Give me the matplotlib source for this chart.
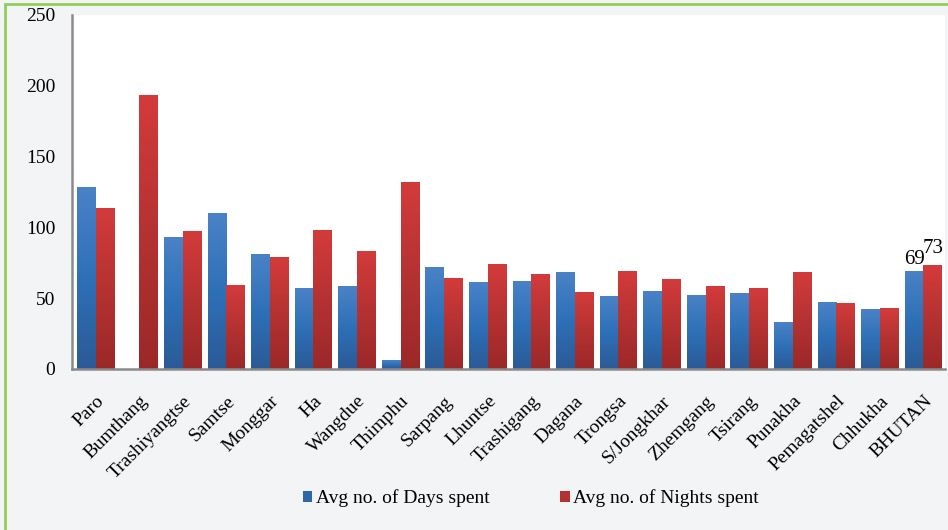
import numpy as np
import matplotlib
matplotlib.use('Agg')
import matplotlib.pyplot as plt
from matplotlib.colors import LinearSegmentedColormap
from matplotlib.patches import Rectangle, Patch

districts = ['Paro', 'Bumthang', 'Trashiyangtse', 'Samtse', 'Monggar', 'Ha', 'Wangdue',
             'Thimphu', 'Sarpang', 'Lhuntse', 'Trashigang', 'Dagana', 'Trongsa',
             'S/Jongkhar', 'Zhemgang', 'Tsirang', 'Punakha', 'Pemagatshel', 'Chhukha', 'BHUTAN']
days = [128, 0, 93, 110, 81, 57, 58, 6, 72, 61, 62, 68, 51, 55, 52, 53, 33, 47, 42, 69]
nights = [113, 193, 97, 59, 79, 98, 83, 132, 64, 74, 67, 54, 69, 63, 58, 57, 68, 46, 43, 73]

plt.rcParams['font.family'] = ['Liberation Serif', 'DejaVu Serif']

fig = plt.figure(figsize=(9.48, 5.3), dpi=100, facecolor='#f3f4f6')
ax = fig.add_axes([0.076, 0.304, 0.921, 0.668])
ax.set_facecolor('white')

x = np.arange(len(districts))
w = 0.43
blue_cmap = LinearSegmentedColormap.from_list('b', ['#2b5a96', '#2e70b8', '#4a82c6'])
red_cmap = LinearSegmentedColormap.from_list('r', ['#9b2828', '#b53232', '#d33b3b'])

bars_d = ax.bar(x - w/2, days, w, color='none', zorder=2)
bars_n = ax.bar(x + w/2, nights, w, color='none', zorder=2)

# vertical gradient fill for each bar
grad = np.linspace(0, 1, 256).reshape(-1, 1)
for bars, cmap in [(bars_d, blue_cmap), (bars_n, red_cmap)]:
    for b in bars:
        h = b.get_height()
        if h <= 0:
            continue
        x0 = b.get_x()
        ax.imshow(grad, extent=[x0, x0 + b.get_width(), 0, h], cmap=cmap,
                  aspect='auto', origin='lower', zorder=2, interpolation='bilinear')

# value labels on the national totals
ax.text(x[-1] - w/2, days[-1] + 1.5, f'{days[-1]}', ha='center', va='bottom', fontsize=15)
ax.text(x[-1] + w/2 + 0.02, nights[-1] + 5, f'{nights[-1]}', ha='center', va='bottom', fontsize=15)

ax.set_xlim(-0.54, 19.5)
ax.set_ylim(0, 250)
ax.set_yticks(range(0, 251, 50))
ax.set_xticks(x)
ax.set_xticklabels(districts, rotation=45, ha='right', rotation_mode='anchor', fontsize=14)
ax.tick_params(axis='both', length=0, labelsize=14)
ax.tick_params(axis='y', pad=12)
ax.tick_params(axis='x', pad=17)
for s in ['top', 'right']:
    ax.spines[s].set_visible(False)
for s in ['left', 'bottom']:
    ax.spines[s].set_color('#8a8a8a')
    ax.spines[s].set_linewidth(1.8)

handles = [Patch(facecolor='#2e66a8', label='Avg no. of Days spent'),
           Patch(facecolor='#b53030', label='Avg no. of Nights spent')]
fig.legend(handles=handles, loc='center', bbox_to_anchor=(0.56, 0.06), ncol=2, frameon=False,
           fontsize=14, handlelength=0.5, handleheight=0.5, handletextpad=0.2, columnspacing=3.6)

# green frame
fig.patches.append(Rectangle((5 / 948, -0.05), 1.2, (530 - 3.5) / 530 + 0.05,
                             transform=fig.transFigure, fill=False, edgecolor='#92cf5a',
                             linewidth=2, zorder=0))

fig.savefig('out.png', dpi=100, facecolor=fig.get_facecolor())
